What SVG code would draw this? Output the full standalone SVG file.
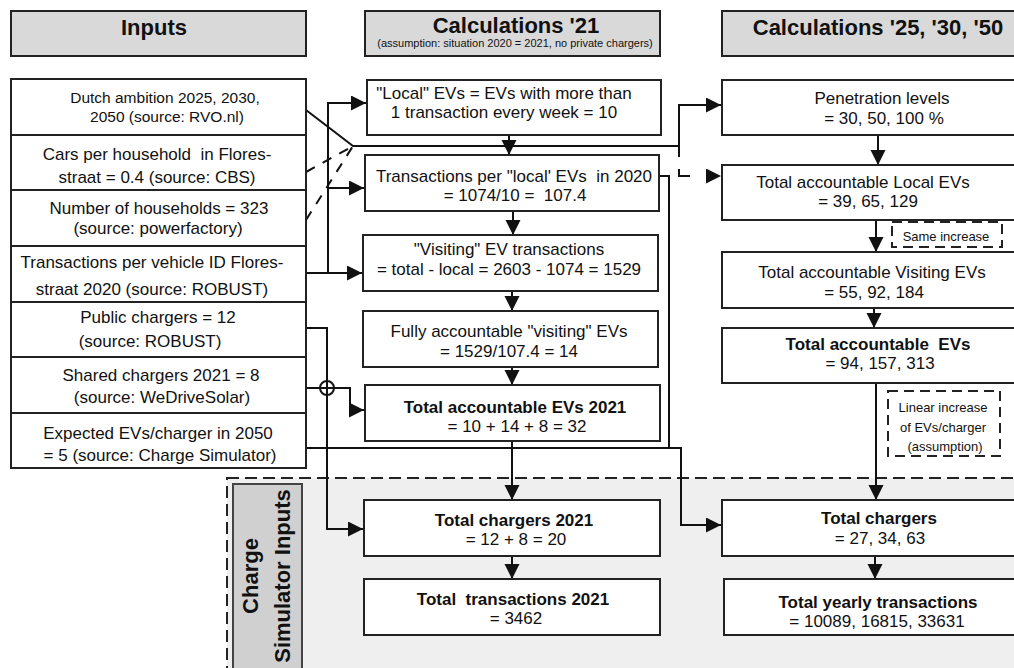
<svg xmlns="http://www.w3.org/2000/svg" width="1014" height="668" viewBox="0 0 1014 668">
<defs>
<marker id="ah" markerUnits="userSpaceOnUse" markerWidth="16" markerHeight="16" refX="15" refY="7.5" orient="auto" viewBox="0 0 16 16"><path d="M0,0 L15,7.5 L0,15 z" fill="#111"/></marker>
</defs>
<style>
.hdr{fill:#d9d9d9;stroke:#222;stroke-width:2}
.box{fill:#fff;stroke:#222;stroke-width:2}
.dbox{fill:#fff;stroke:#222;stroke-width:2;stroke-dasharray:10 6}
text{font-family:"Liberation Sans",Arial,sans-serif;fill:#111;text-anchor:middle;white-space:pre}
.t{font-size:17px}
.t2{font-size:15.5px}
.b{font-size:17px;font-weight:bold}
.h{font-size:22px;font-weight:bold}
.s{font-size:11px}
.n{font-size:13px}
.c{fill:none;stroke:#111;stroke-width:2}
.cdl{fill:none;stroke:#111;stroke-width:2;stroke-dasharray:10 9}
.cd{fill:none;stroke:#111;stroke-width:2;stroke-dasharray:11 12 18 40}
.a{marker-end:url(#ah)}
</style>
<rect x="0" y="0" width="1014" height="668" fill="#fff"/>

<g id="sim-region">
<rect x="227" y="478" width="800" height="200" fill="#efefef" stroke="#222" stroke-width="2" stroke-dasharray="12 6"/>
<rect x="233" y="484" width="69" height="200" fill="#d0d0d0" stroke="#444" stroke-width="2"/>
<text class="h" font-size="21" transform="translate(258,576) rotate(-90)">Charge</text>
<text class="h" font-size="21" transform="translate(290,576) rotate(-90)">Simulator Inputs</text>
</g>

<g id="hdr-inputs"><rect class="hdr" x="11" y="11" width="295" height="45"/><text class="h" x="154" y="35">Inputs</text></g>
<g id="hdr-calc21"><rect class="hdr" x="365" y="11" width="295" height="45"/><text class="h" x="516" y="33">Calculations '21</text><text class="s" x="515" y="47">(assumption: situation 2020 = 2021, no private chargers)</text></g>
<g id="hdr-calc25"><rect class="hdr" x="722" y="11" width="300" height="45"/><text class="h" x="878" y="35">Calculations '25, '30, '50</text></g>

<g id="connectors">
<path class="c a" d="M306,273 H362"/>
<path class="c a" d="M328,273 V103 H366"/>
<path class="c a" d="M328,188 H364"/>
<path class="c a" d="M306,110 L353,146 H679 V105 H721"/>
<path class="cdl" d="M306,172 L353,146"/>
<path class="cdl" d="M306,220 L353,146"/>
<path class="cd a" d="M679,146 V176 H721"/>
<path class="c" d="M659,176 H669 V448"/>
<path class="c a" d="M306,448 H681 V525 H721"/>
<path class="c a" d="M306,328 H327 V529 H363"/>
<path class="c a" d="M306,388 H350 V410 H364"/>
<circle cx="327" cy="388" r="7" fill="none" stroke="#111" stroke-width="2"/>
<path class="c a" d="M509,135 V155"/>
<path class="c a" d="M513,211 V235"/>
<path class="c a" d="M512,291 V311"/>
<path class="c a" d="M512,367 V385"/>
<path class="c a" d="M512,441 V500"/>
<path class="c a" d="M512,556 V579"/>
<path class="c a" d="M878,135 V165"/>
<path class="c a" d="M876,220 V252"/>
<path class="c a" d="M874,308 V328"/>
<path class="c a" d="M876,383 V500"/>
<path class="c a" d="M875,556 V579"/>
</g>

<g id="in-ambition"><rect class="box" x="11" y="79" width="295" height="56"/><text class="t2" x="165" y="103">Dutch ambition 2025, 2030,</text><text class="t2" x="167" y="122">2050 (source: RVO.nl)</text></g>
<g id="in-cars"><rect class="box" x="11" y="135" width="295" height="55"/><text class="t" x="157" y="160" xml:space="preserve">Cars per household  in Flores-</text><text class="t" x="157" y="183">straat = 0.4 (source: CBS)</text></g>
<g id="in-households"><rect class="box" x="11" y="190" width="295" height="56"/><text class="t" x="159" y="214">Number of households = 323</text><text class="t" x="158" y="234">(source: powerfactory)</text></g>
<g id="in-transactions"><rect class="box" x="11" y="246" width="295" height="56"/><text class="t" x="152" y="268">Transactions per vehicle ID Flores-</text><text class="t" x="152" y="295">straat 2020 (source: ROBUST)</text></g>
<g id="in-public"><rect class="box" x="11" y="302" width="295" height="55"/><text class="t" x="158" y="323">Public chargers = 12</text><text class="t" x="150" y="347">(source: ROBUST)</text></g>
<g id="in-shared"><rect class="box" x="11" y="357" width="295" height="56"/><text class="t" x="161" y="381">Shared chargers 2021 = 8</text><text class="t" x="162" y="403">(source: WeDriveSolar)</text></g>
<g id="in-expected"><rect class="box" x="11" y="413" width="295" height="55"/><text class="t" x="158" y="439">Expected EVs/charger in 2050</text><text class="t" x="160" y="461">= 5 (source: Charge Simulator)</text></g>

<g id="c21-local"><rect class="box" x="367" y="80" width="294" height="55"/><text class="t" x="504" y="99">"Local" EVs = EVs with more than</text><text class="t" x="504" y="118">1 transaction every week = 10</text></g>
<g id="c21-trans-local"><rect class="box" x="365" y="155" width="294" height="56"/><text class="t" x="514" y="182" xml:space="preserve">Transactions per "local' EVs  in 2020</text><text class="t" x="515" y="201" xml:space="preserve">= 1074/10 =  107.4</text></g>
<g id="c21-visiting-trans"><rect class="box" x="363" y="235" width="295" height="56"/><text class="t" x="509" y="255">"Visiting" EV transactions</text><text class="t" x="509" y="275">= total - local = 2603 - 1074 = 1529</text></g>
<g id="c21-visiting-evs"><rect class="box" x="363" y="311" width="295" height="56"/><text class="t" x="509" y="337">Fully accountable "visiting" EVs</text><text class="t" x="509" y="357">= 1529/107.4 = 14</text></g>
<g id="c21-total-evs"><rect class="box" x="365" y="385" width="295" height="56"/><text class="b" x="515" y="413">Total accountable EVs 2021</text><text class="t" x="517" y="432">= 10 + 14 + 8 = 32</text></g>
<g id="c21-chargers"><rect class="box" x="364" y="500" width="296" height="56"/><text class="b" x="514" y="526">Total chargers 2021</text><text class="t" x="516" y="545">= 12 + 8 = 20</text></g>
<g id="c21-transactions"><rect class="box" x="364" y="579" width="296" height="56"/><text class="b" x="513" y="605" xml:space="preserve">Total  transactions 2021</text><text class="t" x="516" y="624">= 3462</text></g>

<g id="c25-penetration"><rect class="box" x="722" y="80" width="300" height="55"/><text class="t" x="882" y="104">Penetration levels</text><text class="t" x="884" y="124">= 30, 50, 100 %</text></g>
<g id="c25-local"><rect class="box" x="722" y="165" width="300" height="55"/><text class="t" x="863" y="188">Total accountable Local EVs</text><text class="t" x="868" y="207">= 39, 65, 129</text></g>
<g id="note-same"><rect class="dbox" x="892" y="222" width="110" height="25"/><text class="n" x="946" y="241">Same increase</text></g>
<g id="c25-visiting"><rect class="box" x="722" y="252" width="300" height="56"/><text class="t" x="872" y="278">Total accountable Visiting EVs</text><text class="t" x="874" y="298">= 55, 92, 184</text></g>
<g id="c25-total-evs"><rect class="box" x="722" y="328" width="300" height="55"/><text class="b" x="878" y="350" xml:space="preserve">Total accountable  EVs</text><text class="t" x="880" y="369">= 94, 157, 313</text></g>
<g id="note-linear"><rect class="dbox" x="888" y="391" width="112" height="65"/><text class="n" x="943" y="412">Linear increase</text><text class="n" x="943" y="432">of EVs/charger</text><text class="n" x="945" y="451">(assumption)</text></g>
<g id="c25-chargers"><rect class="box" x="722" y="500" width="300" height="56"/><text class="b" x="879" y="524">Total chargers</text><text class="t" x="880" y="544">= 27, 34, 63</text></g>
<g id="c25-transactions"><rect class="box" x="724" y="579" width="298" height="56"/><text class="b" x="878" y="608">Total yearly transactions</text><text class="t" x="877" y="627">= 10089, 16815, 33631</text></g>
</svg>
